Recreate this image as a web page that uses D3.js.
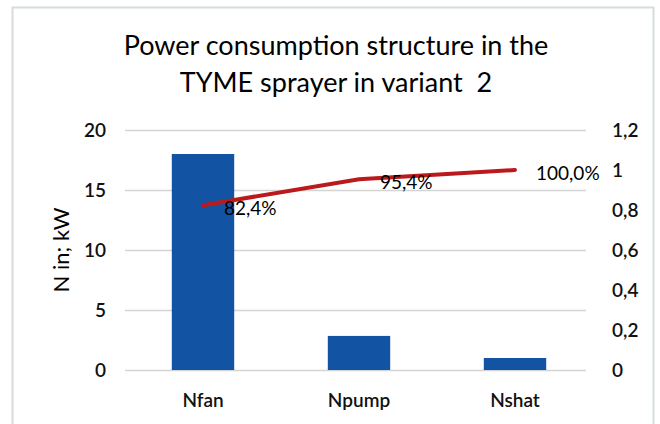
<!DOCTYPE html>
<html>
<head>
<meta charset="utf-8">
<script src="https://cdn.jsdelivr.net/npm/d3@7/dist/d3.min.js"></script>
<style>
    body { margin: 0; background: #fff; }
    text { font-family: Lato, "Open Sans", sans-serif; fill: #111; }
</style>
</head>
<body>
<div id="stage"></div>
<script>
(function(d3) {
    'use strict';

    var categories = ['Nfan', 'Npump', 'Nshat'];
    var powerKw = [18.0, 2.84, 1.0];
    var cumulShare = [0.824, 0.954, 1.0];
    var shareLabels = ['82,4%', '95,4%', '100,0%'];
    var leftTicks = [0, 5, 10, 15, 20];
    var rightTicks = [0, 0.2, 0.4, 0.6, 0.8, 1, 1.2];

    var width = 660,
        height = 424,
        plot = { left: 125, right: 593, top: 130, bottom: 370 };

    var svg = d3.select('#stage')
        .append('svg')
        .attr('width', width)
        .attr('height', height);

    svg.append('rect')
        .attr('x', 12.5)
        .attr('y', 7.5)
        .attr('width', 641)
        .attr('height', 420)
        .style('fill', '#fff')
        .style('stroke', '#d6dcdc')
        .style('stroke-width', 2);

    var x = d3.scaleBand()
        .domain(categories)
        .range([plot.left, plot.right])
        .paddingInner(0.6)
        .paddingOuter(0.3);

    var yLeft = d3.scaleLinear().domain([0, 20]).range([plot.bottom, plot.top]);
    var yRight = d3.scaleLinear().domain([0, 1.2]).range([plot.bottom, plot.top]);

    // gridlines
    svg.append('g')
        .selectAll('line')
        .data(leftTicks)
        .enter()
        .append('line')
        .attr('x1', plot.left)
        .attr('x2', 586)
        .attr('y1', function(d) { return Math.round(yLeft(d)) + 0.5; })
        .attr('y2', function(d) { return Math.round(yLeft(d)) + 0.5; })
        .style('stroke', '#d4d4d4')
        .style('stroke-width', 1.5);

    // left axis
    var axL = svg.append('g')
        .attr('transform', 'translate(106,0)')
        .call(d3.axisLeft(yLeft).tickValues(leftTicks).tickSize(0).tickPadding(0));
    axL.select('.domain').remove();
    axL.selectAll('text')
        .style('font-size', '19px')
        .style('font-weight', 600)
        .style('font-family', 'Lato, sans-serif')
        .attr('fill', '#111');

    // right axis
    var axR = svg.append('g')
        .attr('transform', 'translate(612,0)')
        .call(d3.axisRight(yRight).tickValues(rightTicks).tickSize(0).tickPadding(0)
            .tickFormat(function(d) { return String(d).replace('.', ','); }));
    axR.select('.domain').remove();
    axR.selectAll('text')
        .style('font-size', '19px')
        .style('font-weight', 600)
        .style('font-family', 'Lato, sans-serif')
        .attr('fill', '#111');

    // bars
    svg.append('g')
        .selectAll('rect')
        .data(categories)
        .enter()
        .append('rect')
        .attr('x', function(d) { return x(d); })
        .attr('width', x.bandwidth())
        .attr('y', function(d, i) { return yLeft(powerKw[i]); })
        .attr('height', function(d, i) { return yLeft(0) - yLeft(powerKw[i]); })
        .style('fill', '#1353a3');

    // cumulative line
    var line = d3.line()
        .x(function(d, i) { return x(categories[i]) + x.bandwidth() / 2; })
        .y(function(d) { return yRight(d); });

    svg.append('path')
        .datum(cumulShare)
        .attr('d', line)
        .style('fill', 'none')
        .style('stroke', '#bb1a1c')
        .style('stroke-width', 4)
        .style('stroke-linecap', 'round');

    svg.append('g')
        .selectAll('text')
        .data(cumulShare)
        .enter()
        .append('text')
        .attr('x', function(d, i) { return x(categories[i]) + x.bandwidth() / 2 + 21; })
        .attr('y', function(d) { return yRight(d) + 10; })
        .style('font-size', '19px')
        .style('fill', '#000')
        .text(function(d, i) { return shareLabels[i]; });

    // category labels
    svg.append('g')
        .selectAll('text')
        .data(categories)
        .enter()
        .append('text')
        .attr('x', function(d) { return x(d) + x.bandwidth() / 2; })
        .attr('y', 407)
        .attr('text-anchor', 'middle')
        .style('font-size', '19px')
        .style('font-weight', 600)
        .text(function(d) { return d; });

    // axis title
    svg.append('text')
        .attr('transform', 'translate(69,250) rotate(-90)')
        .attr('text-anchor', 'middle')
        .style('font-size', '22px')
        .style('fill', '#000')
        .text('N in; kW');

    // title
    svg.append('text')
        .attr('x', 336)
        .attr('y', 55)
        .attr('text-anchor', 'middle')
        .style('font-size', '27px')
        .style('fill', '#000')
        .text('Power consumption structure in the');
    svg.append('text')
        .attr('x', 336)
        .attr('y', 92)
        .attr('text-anchor', 'middle')
        .style('font-size', '27px')
        .style('fill', '#000')
        .style('white-space', 'pre')
        .text('TYME sprayer in variant  2');

})(window.d3);
</script>
</body>
</html>
